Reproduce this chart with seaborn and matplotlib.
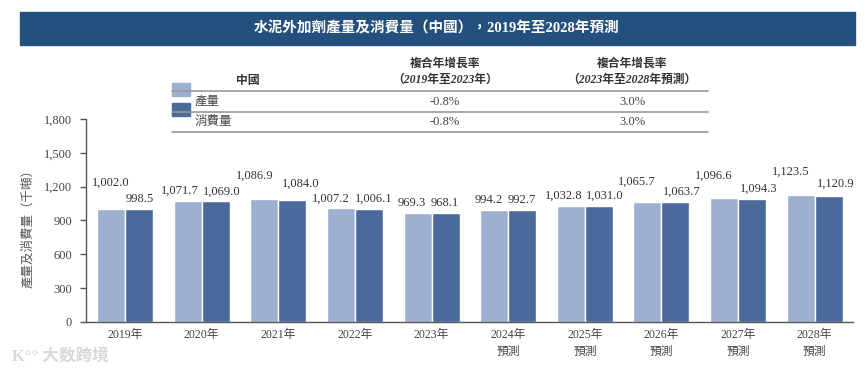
import matplotlib
matplotlib.use("Agg")
import matplotlib.pyplot as plt
import seaborn as sns
import pandas as pd
from matplotlib.patches import Rectangle
from matplotlib.lines import Line2D

# ---- data ----
years = ["2019年", "2020年", "2021年", "2022年", "2023年",
         "2024年\n預測", "2025年\n預測", "2026年\n預測", "2027年\n預測", "2028年\n預測"]
production = [1002.0, 1071.7, 1086.9, 1007.2, 969.3, 994.2, 1032.8, 1065.7, 1096.6, 1123.5]
consumption = [998.5, 1069.0, 1084.0, 1006.1, 968.1, 992.7, 1031.0, 1063.7, 1094.3, 1120.9]
series_names = ["產量", "消費量"]
cagr_hist = ["-0.8%", "-0.8%"]
cagr_fcst = ["3.0%", "3.0%"]
title = "水泥外加劑產量及消費量（中國），2019年至2028年預測"
ylabel = "產量及消費量（千噸）"

# label nudges in pixels (dx, dy) for readability, per series
prod_nudge = [(0, 16), (-8, 0), (-10, 14), (-10, 0), (-6, 0), (-5, 0), (-7, 0), (-11, 10), (-10, 13), (-10, 14)]
cons_nudge = [(1, 0), (6, 0), (8, 6), (5, 0), (-1, 0), (0, 0), (6, 0), (6, 0), (7, 0), (7, 2)]

LIGHT = "#9DB0D0"
DARK = "#4A6A9B"
BAR_BG = "#24507E"
FONT = ["Liberation Serif", "Noto Sans CJK TC", "DejaVu Sans"]

sns.set_theme(style="white")
plt.rcParams["font.family"] = FONT

W, H = 865, 371
fig = plt.figure(figsize=(W / 100, H / 100), dpi=100)

def fx(x):
    return x / W

def fy(y):
    return 1 - y / H

# title bar
fig.patches.append(Rectangle((fx(20), fy(45)), fx(855) - fx(20), fy(12) - fy(45),
                             transform=fig.transFigure, color=BAR_BG, zorder=0))
fig.text(fx(437), fy(28.5), title, color="white", fontsize=10.5, fontweight="bold",
         ha="center", va="center", family=FONT)

# main axes
ax = fig.add_axes([fx(86), fy(322), fx(853) - fx(86), fy(119) - fy(322)])
df = pd.DataFrame({
    "year": years * 2,
    "value": production + consumption,
    "series": [series_names[0]] * len(years) + [series_names[1]] * len(years),
})
sns.barplot(data=df, x="year", y="value", hue="series", palette=[LIGHT, DARK],
            width=0.73, gap=0, saturation=1, legend=False, ax=ax, errorbar=None)

ax.set_xlim(-0.51, 9.5)
ax.set_ylim(0, 1800)
ax.set_yticks(range(0, 1801, 300))
ax.set_yticklabels([f"{v:,}" for v in range(0, 1801, 300)], fontsize=9, color="#444444")
ax.set_xticks(range(len(years)))
ax.set_xticklabels(years, fontsize=8.5, color="#444444", linespacing=1.5)
ax.set_xlabel("")
ax.set_ylabel("")
for s in ["top", "right"]:
    ax.spines[s].set_visible(False)
for s in ["left", "bottom"]:
    ax.spines[s].set_color("#555555")
    ax.spines[s].set_linewidth(1.0)
ax.tick_params(axis="y", length=4, width=1, color="#555555", pad=6, direction="out", left=True)
ax.tick_params(axis="x", length=0, pad=5)

for cont, vals, nudges in zip(ax.containers, [production, consumption], [prod_nudge, cons_nudge]):
    for bar, v, (dx, dy) in zip(cont, vals, nudges):
        ax.annotate(f"{v:,.1f}", (bar.get_x() + bar.get_width() / 2, bar.get_height()),
                    xytext=(dx, 4 + dy), textcoords="offset pixels",
                    ha="center", va="bottom", fontsize=9, color="#333333")

# y label
fig.text(fx(28), fy(225), ylabel, rotation=90, ha="center", va="center",
         fontsize=9, color="#555555", family=FONT)

# legend / table
fig.patches.append(Rectangle((fx(172), fy(96)), fx(190) - fx(172), fy(83) - fy(96),
                             transform=fig.transFigure, color=LIGHT))
fig.patches.append(Rectangle((fx(172), fy(116)), fx(190) - fx(172), fy(103) - fy(116),
                             transform=fig.transFigure, color=DARK))
for ly in [91, 112, 132]:
    fig.lines.append(Line2D([fx(172), fx(708)], [fy(ly), fy(ly)], transform=fig.transFigure,
                            color="#999999", linewidth=1.2))

hdr = dict(fontsize=8.5, fontweight="bold", style="italic", color="#333333",
           ha="center", va="center", family=FONT)
fig.text(fx(248), fy(81), "中國", **hdr)
fig.text(fx(445), fy(64), "複合年增長率", **hdr)
fig.text(fx(445), fy(80), "（2019年至2023年）", **hdr)
fig.text(fx(632), fy(64), "複合年增長率", **hdr)
fig.text(fx(632), fy(80), "（2023年至2028年預測）", **hdr)

row = dict(fontsize=9, color="#444444", va="center", family=FONT)
for i, ry in enumerate([102, 122]):
    fig.text(fx(195), fy(ry), series_names[i], ha="left", **row)
    fig.text(fx(445), fy(ry), cagr_hist[i], ha="center", **row)
    fig.text(fx(632), fy(ry), cagr_fcst[i], ha="center", **row)

# watermark
fig.text(fx(12), fy(356), "K°° 大数跨境", fontsize=12, color="#d8d8d8", ha="left", va="center",
         family=FONT, fontweight="bold")

fig.savefig("out.png", dpi=100)
